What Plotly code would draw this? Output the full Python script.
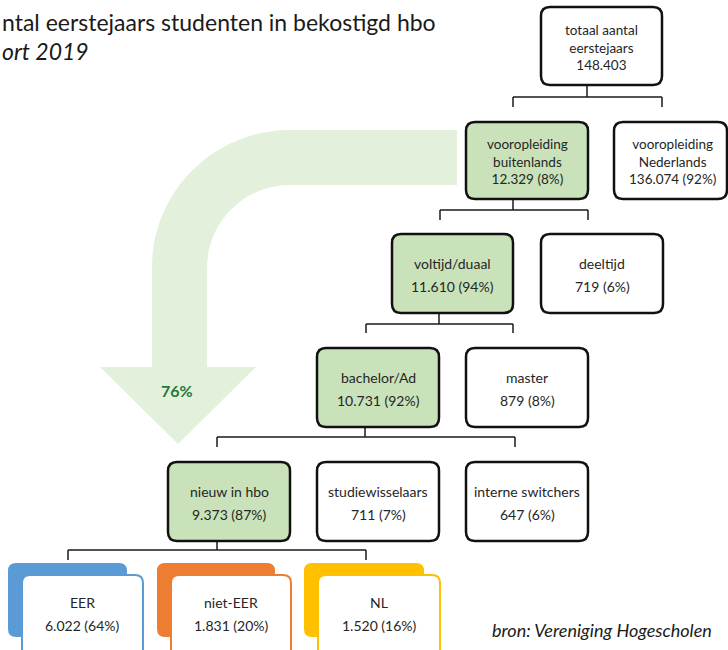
import plotly.graph_objects as go

# ---------------- data ----------------
title_line1 = "ntal eerstejaars studenten in bekostigd hbo"
title_line2 = "ort 2019"
source_text = "bron: Vereniging Hogescholen"

node_names = [
    ["totaal aantal", "eerstejaars"],
    ["vooropleiding", "buitenlands"],
    ["vooropleiding", "Nederlands"],
    ["voltijd/duaal"],
    ["deeltijd"],
    ["bachelor/Ad"],
    ["master"],
    ["nieuw in hbo"],
    ["studiewisselaars"],
    ["interne switchers"],
    ["EER"],
    ["niet-EER"],
    ["NL"],
]
node_counts = [148403, 12329, 136074, 11610, 719, 10731, 879, 9373, 711, 647, 6022, 1831, 1520]
node_shares = [None, 8, 92, 94, 6, 92, 8, 87, 7, 6, 64, 20, 16]
flow_share = 76

# ---------------- layout (pixel positions) ----------------
W, H = 728, 650
# box rectangles: x0, y0, x1, y1
box_pos = [
    (541, 7, 662, 85),
    (466, 122, 588, 199),
    (614, 122, 727, 199),
    (392, 234, 513, 313),
    (541, 234, 663, 313),
    (317, 348, 439, 427),
    (466, 348, 588, 427),
    (168, 462, 290, 541),
    (317, 462, 439, 541),
    (466, 462, 588, 541),
    (22, 575, 143, 662),
    (171, 575, 291, 662),
    (318, 575, 440, 662),
]
box_style = ["w", "g", "w", "g", "w", "g", "w", "g", "w", "w", "blue", "orange", "yellow"]
text_cy = [47, 161, 161, 274, 274, 388, 388, 502, 502, 502, 613, 613, 613]

GREEN_FILL = "#C9E2B9"
ARROW_FILL = "#E3F0DB"
accent = {"blue": "#5B9BD5", "orange": "#ED7D31", "yellow": "#FFC000"}
TXT = "#262626"
FONT = "Lato"

# connectors: (stem_x, stem_top, bar_y, bar_x0, bar_x1, tick_bottom)
connectors = [
    (587, 85, 97, 513, 662, 107),
    (513, 199, 210, 440, 588, 220),
    (439, 313, 324, 366, 513, 333),
    (365, 427, 437, 217, 515, 447),
    (217, 541, 550, 68, 366, 560),
]


def fmt(n):
    return f"{n:,}".replace(",", ".")


def rrect(x0, y0, x1, y1, r):
    return (f"M{x0+r},{y0} L{x1-r},{y0} Q{x1},{y0} {x1},{y0+r} "
            f"L{x1},{y1-r} Q{x1},{y1} {x1-r},{y1} L{x0+r},{y1} "
            f"Q{x0},{y1} {x0},{y1-r} L{x0},{y0+r} Q{x0},{y0} {x0+r},{y0} Z")


shapes = []
annotations = []

# big curved arrow
k = 0.5523
cx, cy = 290, 268
ro, ri = 138, 83
arrow = (
    f"M457,130 L{cx},130 "
    f"C{cx-ro*k},130 152,{cy-ro*k} 152,{cy} "
    f"L152,367 L100,367 L178,444 L256,367 L207,367 L207,{cy} "
    f"C207,{cy-ri*k} {cx-ri*k},{cy-ri} {cx},{cy-ri} "
    f"L457,{cy-ri} Z"
)
shapes.append(dict(type="path", path=arrow, xref="x", yref="y",
                   fillcolor=ARROW_FILL, line=dict(width=0), layer="below"))
annotations.append(dict(x=177, y=390, text=f"<b>{flow_share}%</b>", showarrow=False,
                        font=dict(family=FONT, size=16, color="#1E7A3A"),
                        xref="x", yref="y", xanchor="center", yanchor="middle"))

# connectors
for sx, st, by, bx0, bx1, tb in connectors:
    ln = dict(color="#1a1a1a", width=1.5)
    shapes.append(dict(type="line", x0=sx, x1=sx, y0=st, y1=by, xref="x", yref="y", line=ln))
    shapes.append(dict(type="line", x0=bx0, x1=bx1, y0=by, y1=by, xref="x", yref="y", line=ln))
    shapes.append(dict(type="line", x0=bx0, x1=bx0, y0=by, y1=tb, xref="x", yref="y", line=ln))
    shapes.append(dict(type="line", x0=bx1, x1=bx1, y0=by, y1=tb, xref="x", yref="y", line=ln))
    # faint guide inside parent box
    shapes.append(dict(type="line", x0=sx, x1=sx, y0=st - 14, y1=st - 2, xref="x", yref="y",
                       line=dict(color="#c8c8c8", width=1)))

# boxes
for i, (pos, st) in enumerate(zip(box_pos, box_style)):
    x0, y0, x1, y1 = pos
    if st in accent:
        col = accent[st]
        shapes.append(dict(type="path", path=rrect(x0 - 14, y0 - 12, x1 - 16, y1 - 25, 8),
                           xref="x", yref="y", fillcolor=col, line=dict(width=0)))
        shapes.append(dict(type="path", path=rrect(x0, y0, x1, y1, 8),
                           xref="x", yref="y", fillcolor="white", line=dict(color=col, width=2)))
    else:
        fill = GREEN_FILL if st == "g" else "white"
        shapes.append(dict(type="path", path=rrect(x0, y0, x1, y1, 9),
                           xref="x", yref="y", fillcolor=fill, line=dict(color="#111111", width=2.5)))

    xc = (x0 + x1) / 2
    if i == 2:
        xc = 672
    share = node_shares[i]
    value = fmt(node_counts[i]) + ("" if share is None else f" ({share}%)")
    lines = node_names[i] + [value]
    if len(lines) == 3:
        annotations.append(dict(x=xc, y=text_cy[i], text="<br>".join(lines), showarrow=False,
                                xref="x", yref="y", xanchor="center", yanchor="middle",
                                align="center",
                                font=dict(family=FONT, size=13.5, color=TXT)))
    else:
        for t, yy in zip(lines, [text_cy[i] - 11, text_cy[i] + 12]):
            annotations.append(dict(x=xc, y=yy, text=t, showarrow=False,
                                    xref="x", yref="y", xanchor="center", yanchor="middle",
                                    font=dict(family=FONT, size=14, color=TXT)))

# titles and source
annotations.append(dict(x=0, y=22, text=title_line1, showarrow=False, xref="x", yref="y",
                        xanchor="left", yanchor="middle",
                        font=dict(family=FONT, size=23, color="#1a1a1a")))
annotations.append(dict(x=0, y=51, text=f"<i>{title_line2}</i>", showarrow=False, xref="x", yref="y",
                        xanchor="left", yanchor="middle",
                        font=dict(family=FONT, size=23, color="#1a1a1a")))
annotations.append(dict(x=714, y=630, text=f"<i>{source_text}</i>", showarrow=False, xref="x", yref="y",
                        xanchor="right", yanchor="middle",
                        font=dict(family=FONT, size=18, color="#1a1a1a")))

fig = go.Figure()
fig.update_layout(
    width=W, height=H,
    margin=dict(l=0, r=0, t=0, b=0),
    paper_bgcolor="white", plot_bgcolor="white",
    xaxis=dict(range=[0, W], visible=False, fixedrange=True),
    yaxis=dict(range=[H, 0], visible=False, fixedrange=True),
    shapes=shapes, annotations=annotations, showlegend=False,
)
fig.write_html("out.html", post_script="document.body.style.margin='0';document.body.style.overflow='hidden';",
               config={"displayModeBar": False})
